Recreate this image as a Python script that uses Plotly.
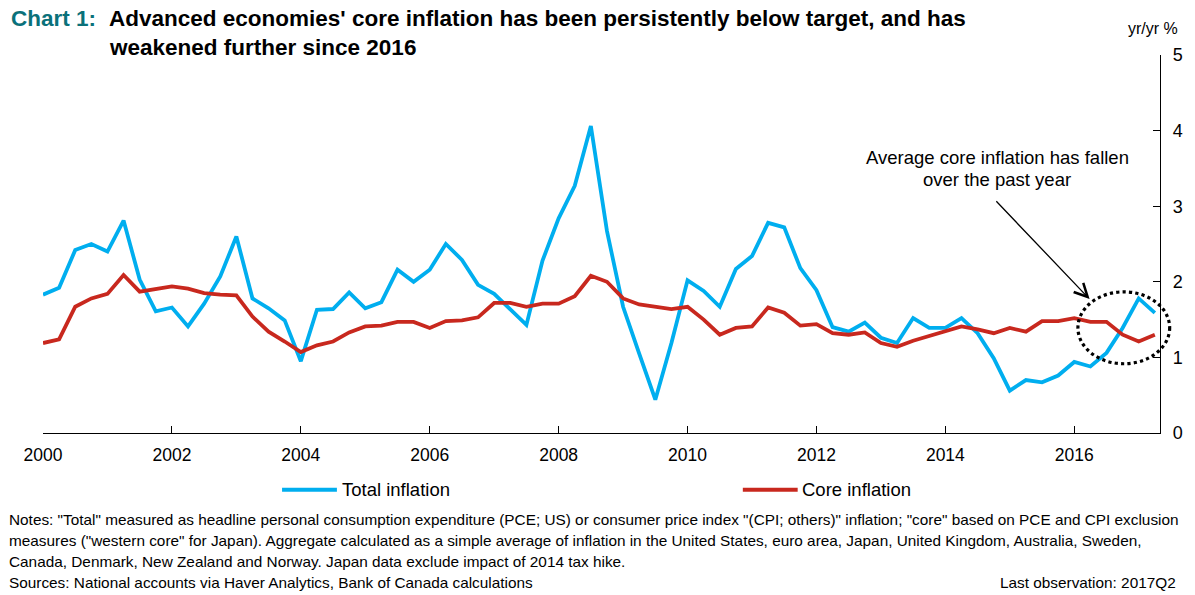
import plotly.graph_objects as go

# Quarterly year-over-year inflation, 2000Q1 to 2017Q2
start_year = 2000
total_inflation = [
    1.83, 1.92, 2.42, 2.50,
    2.40, 2.81, 2.03, 1.61,
    1.66, 1.41, 1.71, 2.07,
    2.60, 1.78, 1.65, 1.49,
    0.95, 1.63, 1.64, 1.86,
    1.65, 1.73, 2.16, 2.00,
    2.16, 2.50, 2.29, 1.96,
    1.84, 1.64, 1.43, 2.28,
    2.84, 3.27, 4.06, 2.67,
    1.67, 1.05, 0.44, 1.19,
    2.02, 1.88, 1.67, 2.17,
    2.34, 2.78, 2.72, 2.18,
    1.89, 1.40, 1.34, 1.46,
    1.26, 1.19, 1.52, 1.39,
    1.39, 1.52, 1.32, 0.99,
    0.56, 0.70, 0.67, 0.76,
    0.94, 0.88, 1.06, 1.39,
    1.78, 1.59,
]
core_inflation = [
    1.19, 1.24, 1.67, 1.78,
    1.84, 2.09, 1.87, 1.91,
    1.94, 1.91, 1.85, 1.83,
    1.82, 1.54, 1.34, 1.21,
    1.07, 1.16, 1.21, 1.33,
    1.41, 1.42, 1.47, 1.47,
    1.39, 1.48, 1.49, 1.53,
    1.72, 1.72, 1.67, 1.71,
    1.71, 1.81, 2.08, 2.00,
    1.78, 1.70, 1.67, 1.64,
    1.67, 1.50, 1.30, 1.39,
    1.41, 1.66, 1.59, 1.42,
    1.44, 1.32, 1.30, 1.33,
    1.19, 1.14, 1.22, 1.28,
    1.35, 1.41, 1.37, 1.32,
    1.39, 1.34, 1.48, 1.48,
    1.52, 1.47, 1.47, 1.30,
    1.21, 1.30,
]
x_tick_years = [2000, 2002, 2004, 2006, 2008, 2010, 2012, 2014, 2016]
y_ticks = [0, 1, 2, 3, 4, 5]

dates = [start_year + i / 4 for i in range(len(total_inflation))]

BLUE = "#00AEEF"
RED = "#C8281E"
TEAL = "#0A717A"
FONT = "Liberation Sans, Arial, sans-serif"

W, H = 1195, 595
L, R, T, B = 43.3, 1163.3, 55, 433.3


def px(x):
    return (x - L) / (R - L)


def py(y):
    return (B - y) / (B - T)


fig = go.Figure()
fig.add_trace(go.Scatter(x=dates, y=total_inflation, mode="lines", name="Total inflation",
                         line=dict(color=BLUE, width=3.8), yaxis="y2"))
fig.add_trace(go.Scatter(x=dates, y=core_inflation, mode="lines", name="Core inflation",
                         line=dict(color=RED, width=3.8), yaxis="y2"))

axis_common = dict(showgrid=False, zeroline=False, showline=True, linecolor="black",
                   linewidth=1.4, ticks="inside", ticklen=7, tickwidth=1.4, tickcolor="black")

fig.update_layout(
    width=W, height=H,
    margin=dict(l=L, r=W - R, t=T, b=H - B, pad=0),
    paper_bgcolor="white", plot_bgcolor="white",
    showlegend=False,
    font=dict(family=FONT, color="black"),
    xaxis=dict(range=[2000, 2017.33], tickvals=x_tick_years, ticktext=[str(v) for v in x_tick_years],
               tickfont=dict(size=17.5, family=FONT), ticklabelstandoff=6, **axis_common),
    yaxis=dict(range=[0, 5], tickvals=y_ticks, showticklabels=False, side="left", **axis_common),
    yaxis2=dict(range=[0, 5], tickvals=y_ticks, overlaying="y", side="right",
                tickfont=dict(size=18, family=FONT), ticklabelstandoff=8, **axis_common),
)

ann = []
# Title
ann.append(dict(x=px(9), y=py(18), xref="paper", yref="paper", xanchor="left", yanchor="middle",
                text="<b>Chart 1:</b>", showarrow=False, font=dict(size=22.5, color=TEAL, family=FONT)))
ann.append(dict(x=px(107), y=py(18), xref="paper", yref="paper", xanchor="left", yanchor="middle",
                text="<b>Advanced economies' core inflation has been persistently below target, and has</b>",
                showarrow=False, font=dict(size=22.5, family=FONT)))
ann.append(dict(x=px(107), y=py(47), xref="paper", yref="paper", xanchor="left", yanchor="middle",
                text="<b>weakened further since 2016</b>", showarrow=False, font=dict(size=22.5, family=FONT)))
# Unit label
ann.append(dict(x=px(1156), y=py(28), xref="paper", yref="paper", xanchor="center", yanchor="middle",
                text="yr/yr %", showarrow=False, font=dict(size=16, family=FONT)))
# Callout
for text, yc in (("Average core inflation has fallen", 158), ("over the past year", 180)):
    ann.append(dict(x=px(1000), y=py(yc), xref="paper", yref="paper", xanchor="center", yanchor="middle",
                    text=text, showarrow=False, font=dict(size=18.5, family=FONT)))
ann.append(dict(x=px(1092.7), y=py(299.3), xref="paper", yref="paper", text="", showarrow=True,
                ax=998 - 1092.7, ay=200 - 299.3, axref="pixel", ayref="pixel",
                arrowhead=5, arrowsize=2.0, arrowwidth=1.3, arrowcolor="black"))
# Legend labels
ann.append(dict(x=px(341), y=py(490), xref="paper", yref="paper", xanchor="left", yanchor="middle",
                text="Total inflation", showarrow=False, font=dict(size=18.5, family=FONT)))
ann.append(dict(x=px(802), y=py(490), xref="paper", yref="paper", xanchor="left", yanchor="middle",
                text="Core inflation", showarrow=False, font=dict(size=18.5, family=FONT)))
# Notes
notes = [
    'Notes: "Total" measured as headline personal consumption expenditure (PCE; US) or consumer price index "(CPI; others)" inflation; "core" based on PCE and CPI exclusion',
    'measures ("western core" for Japan). Aggregate calculated as a simple average of inflation in the United States, euro area, Japan, United Kingdom, Australia, Sweden,',
    'Canada, Denmark, New Zealand and Norway. Japan data exclude impact of 2014 tax hike.',
    'Sources: National accounts via Haver Analytics, Bank of Canada calculations',
]
for i, line in enumerate(notes):
    ann.append(dict(x=px(7), y=py(520 + 21 * i), xref="paper", yref="paper", xanchor="left", yanchor="middle",
                    text=line, showarrow=False, font=dict(size=15.35, family=FONT)))
ann.append(dict(x=px(1181), y=py(583), xref="paper", yref="paper", xanchor="right", yanchor="middle",
                text="Last observation: 2017Q2", showarrow=False, font=dict(size=15.35, family=FONT)))
fig.update_layout(annotations=ann)

shapes = [
    dict(type="line", xref="paper", yref="paper", x0=px(283), x1=px(338), y0=py(490), y1=py(490),
         line=dict(color=BLUE, width=4)),
    dict(type="line", xref="paper", yref="paper", x0=px(745), x1=px(800), y0=py(490), y1=py(490),
         line=dict(color=RED, width=4)),
    dict(type="circle", xref="paper", yref="paper", x0=px(1081), x1=px(1173), y0=py(364), y1=py(292),
         line=dict(color="black", width=3.2, dash="dot")),
]
fig.update_layout(shapes=shapes)

fig.write_html("out.html")
